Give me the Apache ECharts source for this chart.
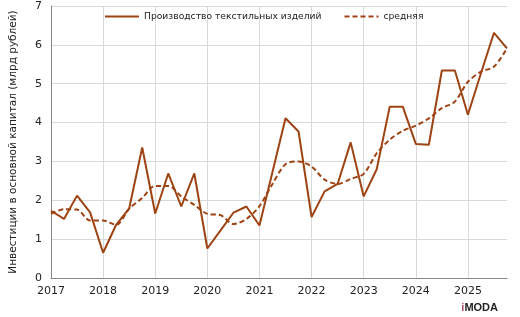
<!DOCTYPE html>
<html>
<head>
<meta charset="utf-8">
<script src="https://cdn.jsdelivr.net/npm/echarts@6/dist/echarts.min.js"></script>
<style>
  html, body { margin: 0; padding: 0; background: #fff; }
  #chart { width: 520px; height: 317px; }
</style>
</head>
<body>
<div id="chart"></div>
<script>
// quarterly values, 2017 Q1 .. 2025 Q4
const years = ['2017', '2018', '2019', '2020', '2021', '2022', '2023', '2024', '2025'];
const quarters = years.flatMap(y => [y + ' I', y + ' II', y + ' III', y + ' IV']);

const production = [
  1.73, 1.52, 2.12, 1.69, 0.65, 1.37, 1.79, 3.36,
  1.66, 2.69, 1.84, 2.69, 0.76, 1.22, 1.68, 1.84,
  1.35, 2.73, 4.11, 3.77, 1.57, 2.23, 2.42, 3.49,
  2.10, 2.80, 4.41, 4.41, 3.45, 3.43, 5.34, 5.34,
  4.20, 5.27, 6.31, 5.91
];
const average = [
  1.65, 1.77, 1.76, 1.48, 1.48, 1.37, 1.78, 2.06,
  2.37, 2.37, 2.10, 1.88, 1.65, 1.62, 1.39, 1.52,
  1.85, 2.42, 2.93, 3.00, 2.87, 2.53, 2.42, 2.55,
  2.68, 3.21, 3.56, 3.79, 3.92, 4.11, 4.37, 4.54,
  5.05, 5.31, 5.44, 5.91
];

const lineColor = '#9e4313';
const font = 'Verdana, "DejaVu Sans", sans-serif';

const chart = echarts.init(document.getElementById('chart'));
chart.setOption({
  animation: false,
  textStyle: { fontFamily: font },
  legend: {
    top: 7,
    left: 99,
    itemWidth: 34,
    itemHeight: 10,
    itemGap: 22,
    itemStyle: { opacity: 0 },
    textStyle: { fontSize: 9.2, color: '#222', fontFamily: font },
    data: ['Производство текстильных изделий', 'средняя']
  },
  grid: { left: 49, right: 13, top: 6, bottom: 39 },
  xAxis: {
    type: 'category',
    data: quarters,
    boundaryGap: false,
    axisLine: { lineStyle: { color: '#888' } },
    axisTick: { show: false },
    axisLabel: {
      interval: 3,
      color: '#222',
      fontSize: 11,
      margin: 8,
      formatter: v => v.split(' ')[0]
    },
    splitLine: { show: true, interval: 3, lineStyle: { color: '#d9d9d9' } }
  },
  yAxis: {
    type: 'value',
    min: 0,
    max: 7,
    interval: 1,
    name: 'Инвестиции в основной капитал (млрд рублей)',
    nameLocation: 'middle',
    nameGap: 32,
    nameTextStyle: { fontSize: 10.5, color: '#222' },
    axisLine: { show: true, lineStyle: { color: '#888' } },
    axisTick: { show: false },
    axisLabel: { color: '#222', fontSize: 11, margin: 9 },
    splitLine: { lineStyle: { color: '#d9d9d9' } }
  },
  series: [
    {
      name: 'Производство текстильных изделий',
      type: 'line',
      data: production,
      symbol: 'none',
      lineStyle: { color: lineColor, width: 2 },
      itemStyle: { color: lineColor }
    },
    {
      name: 'средняя',
      type: 'line',
      data: average,
      symbol: 'none',
      smooth: 0.3,
      lineStyle: { color: lineColor, width: 2, type: [5, 3] },
      itemStyle: { color: lineColor }
    }
  ],
  graphic: [
    {
      type: 'text',
      right: 22,
      bottom: 4,
      style: {
        text: '{i|i}{m|MODA}',
        rich: {
          i: { fill: '#b0506a', fontSize: 11, fontWeight: 'bold', fontFamily: 'Arial' },
          m: { fill: '#222', fontSize: 11, fontWeight: 'bold', fontFamily: 'Arial' }
        }
      }
    }
  ]
});
</script>
</body>
</html>
